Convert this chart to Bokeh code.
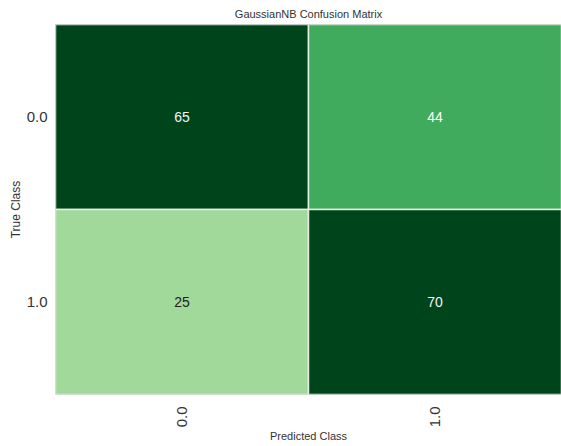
import math
from bokeh.plotting import figure
from bokeh.models import ColumnDataSource, LinearColorMapper
from bokeh.palettes import Greens9
from bokeh.transform import transform
from bokeh.core.properties import value
from bokeh.embed import file_html
from bokeh.resources import INLINE

classes = ["0.0", "1.0"]
true_class = ["0.0", "0.0", "1.0", "1.0"]
pred_class = ["0.0", "1.0", "0.0", "1.0"]
counts = [65, 44, 25, 70]
text_colors = ["#f4f4f4", "#ffffff", "#222222", "#f4f4f4"]

src = ColumnDataSource(dict(
    t=true_class, p=pred_class, c=counts,
    lbl=[str(v) for v in counts], tc=text_colors,
))

mapper = LinearColorMapper(palette=list(reversed(Greens9)), low=0, high=72)

FONT = "Liberation Sans"

p = figure(
    width=561, height=446,
    x_range=classes, y_range=list(reversed(classes)),
    output_backend="svg", toolbar_location=None,
    title="GaussianNB Confusion Matrix",
    min_border_left=55, min_border_right=0, min_border_top=24, min_border_bottom=52,
)

p.rect(x="p", y="t", width=1, height=1, source=src,
       fill_color=transform("c", mapper), line_color="#e4ede4", line_width=1.5)
p.text(x="p", y="t", text="lbl", source=src, text_color="tc",
       text_align="center", text_baseline="middle",
       text_font=value(FONT), text_font_size="14px")

p.title.align = "center"
p.title.text_font = FONT
p.title.text_font_size = "11px"
p.title.text_font_style = "normal"
p.title.text_color = "#333333"

p.xaxis.axis_label = "Predicted Class"
p.yaxis.axis_label = "True Class"
for ax in (p.xaxis, p.yaxis):
    ax.axis_line_color = None
    ax.major_tick_line_color = None
    ax.minor_tick_line_color = None
    ax.major_label_text_font = FONT
    ax.major_label_text_font_size = "15px"
    ax.major_label_text_color = "#333333"
    ax.axis_label_text_font = FONT
    ax.axis_label_text_font_style = "normal"
    ax.axis_label_text_color = "#333333"

p.xaxis.axis_label_text_font_size = "11px"
p.yaxis.axis_label_text_font_size = "12px"
p.yaxis.major_label_standoff = 2
p.yaxis.axis_label_standoff = 1
p.xaxis.major_label_standoff = 6
p.xaxis.axis_label_standoff = 0

p.xaxis.major_label_orientation = math.pi / 2
p.grid.grid_line_color = None
p.outline_line_color = "#cccccc"
p.background_fill_color = "white"
p.border_fill_color = "white"

open("out.html", "w").write(file_html(p, INLINE))
